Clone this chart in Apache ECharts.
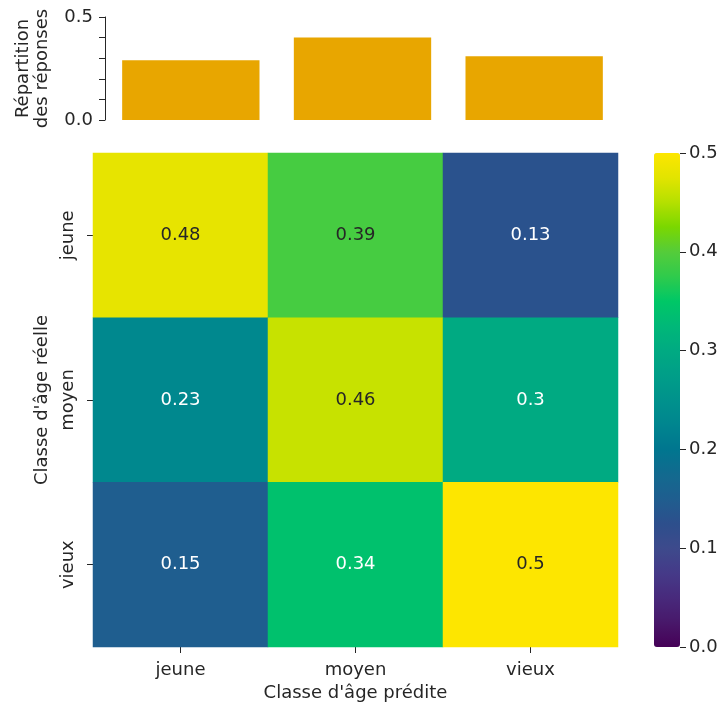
<!DOCTYPE html>
<html>
<head>
<meta charset="utf-8">
<script src="https://cdn.jsdelivr.net/npm/echarts@6/dist/echarts.min.js"></script>
<style>html,body{margin:0;padding:0;background:#fff}#c{width:724px;height:708px}</style>
</head>
<body>
<div id="c"></div>
<script>
const categories = ['jeune', 'moyen', 'vieux'];
const predictedShare = [0.29, 0.40, 0.31];
const rowJeune = [0.48, 0.39, 0.13];
const rowMoyen = [0.23, 0.46, 0.3];
const rowVieux = [0.15, 0.34, 0.5];
const colorbarMin = 0, colorbarMax = 0.5, colorbarStep = 0.1;
const palette = ['#460157','#48186a','#482a7c','#453a88','#3d4a8c','#2d4f8c','#1f5e8f','#126a8f','#00768f','#00858f','#00928c','#009e88','#00aa82','#00b878','#00c766','#2fcb4c','#55cc3a','#7ad700','#b5e000','#e2e400','#fde600'];

const rows = [rowJeune, rowMoyen, rowVieux];
const heatData = [];
rows.forEach((r, yi) => r.forEach((v, xi) => {
  heatData.push({value: [xi, yi, v], label: {color: v >= 0.36 ? '#262626' : '#ffffff'}});
}));

const FONT = 'DejaVu Sans';
const FS = 18;
const TXT = '#262626';
const chart = echarts.init(document.getElementById('c'), null, {renderer: 'canvas'});
chart.setOption({
  animation: false,
  backgroundColor: '#ffffff',
  textStyle: {fontFamily: FONT},
  grid: [
    {left: 105, top: 17, width: 515, height: 103},
    {left: 93, top: 153, width: 525, height: 494},
    {left: 654, top: 153, width: 26, height: 494}
  ],
  xAxis: [
    {gridIndex: 0, type: 'category', data: categories, show: false},
    {gridIndex: 1, type: 'category', data: categories,
      axisLine: {show: false}, axisTick: {show: true, alignWithLabel: true, length: 6, lineStyle: {color: TXT}},
      axisLabel: {color: TXT, fontSize: FS, fontFamily: FONT, margin: 14},
      name: "Classe d'âge prédite", nameLocation: 'middle', nameGap: 37,
      nameTextStyle: {color: TXT, fontSize: FS, fontFamily: FONT}},
    {gridIndex: 2, type: 'value', show: false, min: 0, max: 1}
  ],
  yAxis: [
    {gridIndex: 0, type: 'value', min: colorbarMin, max: colorbarMax, interval: colorbarStep,
      splitLine: {show: false},
      axisLine: {show: true, lineStyle: {color: TXT}},
      axisTick: {show: true, length: 6, lineStyle: {color: TXT}},
      axisLabel: {color: TXT, fontSize: FS, fontFamily: FONT, margin: 12,
        formatter: v => (Math.abs(v) < 1e-9 || Math.abs(v - 0.5) < 1e-9) ? v.toFixed(1) : ''},
      name: 'Répartition\ndes réponses', nameLocation: 'middle', nameRotate: 90, nameGap: 53,
      nameTextStyle: {color: TXT, fontSize: FS, fontFamily: FONT, lineHeight: 19}},
    {gridIndex: 1, type: 'category', data: categories, inverse: true,
      axisLine: {show: false}, axisTick: {show: true, alignWithLabel: true, length: 6, lineStyle: {color: TXT}},
      axisLabel: {color: TXT, fontSize: FS, fontFamily: FONT, rotate: 90, margin: 16},
      name: "Classe d'âge réelle", nameLocation: 'middle', nameRotate: 90, nameGap: 41,
      nameTextStyle: {color: TXT, fontSize: FS, fontFamily: FONT}},
    {gridIndex: 2, type: 'value', position: 'right', min: colorbarMin, max: colorbarMax, interval: colorbarStep,
      splitLine: {show: false}, axisLine: {show: false, onZero: false},
      axisTick: {show: true, length: 6, lineStyle: {color: TXT}},
      axisLabel: {color: TXT, fontSize: FS, fontFamily: FONT, margin: 9, formatter: v => v.toFixed(1)}}
  ],
  visualMap: {
    type: 'continuous', seriesIndex: 1, min: colorbarMin, max: colorbarMax,
    calculable: false, orient: 'vertical', left: 654, top: 153,
    itemWidth: 26, itemHeight: 494, padding: 0, text: null,
    inRange: {color: palette}, hoverLink: false
  },
  series: [
    {type: 'bar', xAxisIndex: 0, yAxisIndex: 0, data: predictedShare, barWidth: '80%',
      itemStyle: {color: '#e8a600'}, silent: true},
    {type: 'heatmap', xAxisIndex: 1, yAxisIndex: 1, data: heatData,
      label: {show: true, fontSize: FS, fontFamily: FONT, formatter: p => String(p.value[2])},
      itemStyle: {borderWidth: 0}, silent: true},
    {type: 'scatter', xAxisIndex: 2, yAxisIndex: 2, data: [], silent: true}
  ]
});
</script>
</body>
</html>
